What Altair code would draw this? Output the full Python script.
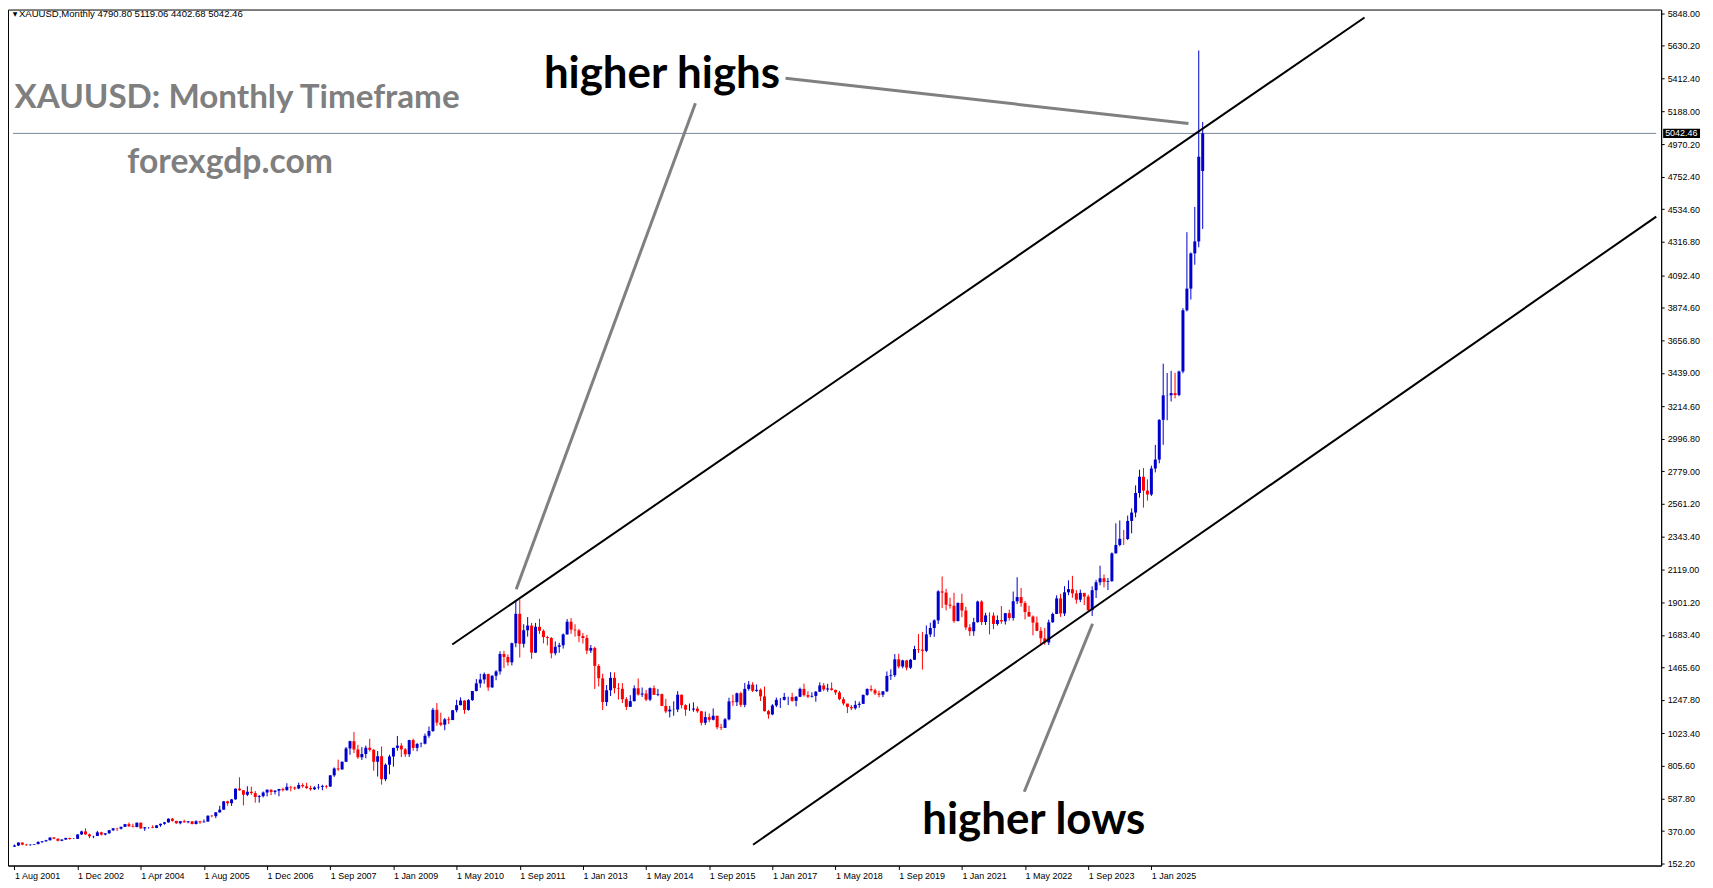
import altair as alt
import pandas as pd

# ---------------- data (monthly bars, index order) ----------------
first_open = 265.5
last_open = 4790.80

close = [
    # Aug 2001 - May 2006
    273.0, 293.1, 278.9, 275.5, 278.7,
    282.3, 296.8, 301.4, 308.2, 326.6, 318.5, 304.7, 312.8, 323.7, 316.9, 317.7, 347.2,
    367.5, 347.5, 334.9, 336.8, 361.4, 346.0, 354.8, 375.6, 388.0, 386.0, 398.0, 416.1,
    401.8, 397.5, 425.8, 387.5, 395.0, 395.2, 390.9, 408.2, 418.4, 428.0, 452.5, 438.0,
    422.2, 435.5, 428.6, 434.8, 417.2, 435.5, 428.6, 433.2, 472.5, 469.7, 495.4, 513.0,
    569.0, 556.3, 582.0, 653.9, 643.0,
    # following bars up to Sep 2007 label
    613, 633, 624, 598, 604, 628, 646, 632, 640, 651, 644, 666, 662, 655, 678, 670, 658, 650, 662, 666, 672, 668,
    # Sep 2007 - Dec 2007
    743, 789, 783, 834,
    923, 972, 916, 864, 886, 928, 914, 834, 871, 717, 814, 869,
    927, 942, 917, 884, 979, 927, 953, 955, 1008, 1040, 1182, 1096,
    1082, 1118, 1113, 1179, 1213, 1244, 1181, 1247, 1308, 1359, 1385, 1421,
    1332, 1410, 1439, 1556, 1536, 1500, 1628, 1825, 1624, 1715, 1746, 1565,
    1738, 1711, 1669, 1663, 1561, 1604, 1614, 1687, 1772, 1719, 1714, 1676,
    1663, 1578, 1596, 1476, 1393, 1234, 1313, 1396, 1327, 1323, 1253, 1202,
    1240, 1326, 1284, 1291, 1250, 1327, 1282, 1287, 1208, 1171, 1183, 1184,
    1283, 1213, 1183, 1183, 1190, 1172, 1095, 1133, 1115, 1142, 1065, 1061,
    1118, 1238, 1233, 1293, 1215, 1322, 1351, 1309, 1316, 1272, 1173, 1151,
    1211, 1249, 1249, 1268, 1268, 1242, 1269, 1322, 1280, 1270, 1275, 1303,
    1345, 1318, 1325, 1315, 1298, 1253, 1224, 1201, 1192, 1215, 1222, 1282,
    1321, 1313, 1292, 1283, 1306, 1409, 1414, 1520, 1472, 1513, 1464, 1517,
    1589, 1585, 1577, 1687, 1730, 1781, 1975, 1967, 1886, 1879, 1776, 1898,
    1847, 1734, 1708, 1769, 1907, 1770, 1814, 1813, 1757, 1783, 1774, 1829,
    1797, 1909, 1937, 1897, 1837, 1807, 1766, 1711, 1661, 1633, 1768, 1824,
    1928, 1827, 1969, 1990, 1962, 1919, 1965, 1940, 1849, 1983, 2036, 2063,
    2039, 2044, 2230, 2286, 2327, 2326, 2447, 2503, 2634, 2743, 2650, 2624,
    2798, 2858, 3124, 3288, 3289, 3303, 3290, 3448, 3858, 4003, 4239, 4319,
    4886, 5042.46,
]

high = [
    280.0, 293.3, 293.0, 284.0, 281.0,
    283.0, 302.0, 303.0, 311.0, 327.0, 330.0, 321.0, 315.0, 325.0, 325.0, 322.0, 349.0,
    372.0, 388.0, 353.0, 338.0, 371.0, 365.0, 355.0, 376.0, 390.0, 392.0, 399.0, 418.0,
    427.0, 419.0, 427.0, 427.0, 397.0, 397.0, 408.0, 409.0, 420.0, 431.0, 455.0, 457.0,
    438.0, 437.0, 446.0, 437.0, 436.0, 442.0, 438.0, 448.0, 475.0, 478.0, 496.0, 539.0,
    570.0, 573.0, 585.0, 654.0, 730.0,
    645, 670, 667, 638, 612, 635, 650, 650, 645, 653, 660, 690, 672, 668, 694, 690, 693, 673, 670, 685, 680, 678,
    745, 796, 848, 836,
    933, 975, 1033, 947, 932, 942, 988, 920, 906, 936, 822, 881,
    927, 1007, 959, 925, 981, 989, 960, 963, 1023, 1070, 1195, 1227,
    1162, 1127, 1135, 1181, 1249, 1265, 1245, 1254, 1308, 1388, 1424, 1432,
    1424, 1413, 1447, 1574, 1577, 1553, 1632, 1912, 1921, 1755, 1803, 1764,
    1764, 1791, 1720, 1677, 1669, 1640, 1631, 1693, 1790, 1796, 1755, 1724,
    1696, 1684, 1616, 1605, 1488, 1424, 1348, 1434, 1433, 1361, 1361, 1267,
    1280, 1345, 1392, 1331, 1315, 1332, 1345, 1322, 1291, 1255, 1208, 1239,
    1307, 1284, 1219, 1224, 1232, 1205, 1175, 1170, 1157, 1191, 1142, 1088,
    1127, 1263, 1283, 1297, 1303, 1362, 1375, 1367, 1352, 1325, 1337, 1181,
    1220, 1264, 1261, 1295, 1270, 1296, 1274, 1331, 1357, 1306, 1299, 1307,
    1366, 1361, 1356, 1365, 1317, 1309, 1266, 1221, 1214, 1243, 1237, 1284,
    1326, 1346, 1324, 1310, 1306, 1439, 1453, 1555, 1557, 1517, 1516, 1523,
    1611, 1689, 1704, 1747, 1765, 1788, 1983, 2075, 1992, 1933, 1966, 1900,
    1959, 1872, 1755, 1798, 1913, 1916, 1832, 1834, 1834, 1814, 1877, 1831,
    1853, 1974, 2070, 1998, 1910, 1879, 1814, 1807, 1735, 1730, 1786, 1833,
    1949, 1959, 2010, 2049, 2079, 1984, 1987, 1949, 1953, 2009, 2052, 2147,
    2088, 2065, 2236, 2431, 2450, 2387, 2483, 2531, 2685, 2790, 2801, 2726,
    2817, 2956, 3128, 3500, 3438, 3452, 3439, 3454, 3872, 4381, 4245, 4550,
    5598, 5119.06,
]

low = [
    264.0, 270.0, 275.0, 271.0, 272.0,
    277.0, 281.0, 289.0, 298.0, 307.0, 315.0, 300.0, 302.0, 311.0, 312.0, 316.0, 317.0,
    344.0, 346.0, 322.0, 322.0, 336.0, 340.0, 341.0, 352.0, 370.0, 370.0, 380.0, 398.0,
    398.0, 394.0, 395.0, 386.0, 371.0, 386.0, 389.0, 389.0, 398.0, 412.0, 426.0, 433.0,
    418.0, 415.0, 425.0, 422.0, 414.0, 414.0, 418.0, 427.0, 433.0, 462.0, 456.0, 492.0,
    513.0, 540.0, 538.0, 580.0, 640.0,
    542, 604, 612, 560, 560, 595, 602, 610, 615, 603, 635, 640, 636, 645, 650, 660, 652, 640, 645, 648, 643, 655,
    665, 733, 773, 780,
    832, 881, 892, 854, 846, 857, 903, 774, 735, 681, 704, 750,
    801, 908, 865, 866, 866, 908, 904, 931, 950, 994, 1034, 1075,
    1072, 1045, 1087, 1115, 1165, 1212, 1155, 1176, 1242, 1305, 1330, 1357,
    1309, 1329, 1380, 1418, 1462, 1477, 1479, 1601, 1532, 1599, 1672, 1523,
    1562, 1690, 1627, 1613, 1527, 1547, 1564, 1592, 1686, 1691, 1672, 1635,
    1626, 1555, 1562, 1321, 1338, 1180, 1208, 1274, 1292, 1251, 1227, 1181,
    1202, 1238, 1277, 1268, 1240, 1240, 1281, 1273, 1206, 1160, 1131, 1142,
    1167, 1191, 1142, 1175, 1169, 1162, 1077, 1080, 1099, 1111, 1052, 1046,
    1062, 1111, 1208, 1207, 1200, 1199, 1310, 1301, 1302, 1241, 1171, 1122,
    1146, 1200, 1195, 1244, 1214, 1236, 1205, 1267, 1271, 1260, 1264, 1236,
    1302, 1307, 1303, 1310, 1282, 1246, 1211, 1160, 1180, 1183, 1196, 1221,
    1276, 1303, 1281, 1266, 1267, 1300, 1382, 1401, 1459, 1460, 1446, 1455,
    1517, 1563, 1451, 1568, 1670, 1671, 1757, 1863, 1848, 1860, 1764, 1775,
    1802, 1717, 1677, 1678, 1765, 1750, 1750, 1687, 1722, 1746, 1758, 1753,
    1780, 1780, 1890, 1872, 1787, 1805, 1681, 1709, 1615, 1617, 1616, 1765,
    1823, 1804, 1810, 1950, 1932, 1893, 1903, 1884, 1846, 1810, 1931, 2016,
    2002, 1984, 2039, 2228, 2277, 2286, 2318, 2364, 2471, 2603, 2536, 2583,
    2614, 2772, 2833, 2957, 3121, 3247, 3268, 3282, 3436, 3850, 3930, 4163,
    4280, 4402.68,
]

y_ticks = [152.20, 370.00, 587.80, 805.60, 1023.40, 1247.80, 1465.60, 1683.40, 1901.20,
           2119.00, 2343.40, 2561.20, 2779.00, 2996.80, 3214.60, 3439.00, 3656.80, 3874.60,
           4092.40, 4316.80, 4534.60, 4752.40, 4970.20, 5188.00, 5412.40, 5630.20, 5848.00]

x_tick_labels = ["1 Aug 2001", "1 Dec 2002", "1 Apr 2004", "1 Aug 2005", "1 Dec 2006",
                 "1 Sep 2007", "1 Jan 2009", "1 May 2010", "1 Sep 2011", "1 Jan 2013",
                 "1 May 2014", "1 Sep 2015", "1 Jan 2017", "1 May 2018", "1 Sep 2019",
                 "1 Jan 2021", "1 May 2022", "1 Sep 2023", "1 Jan 2025"]
bars_per_label = 16

last_price = 5042.46
header = "XAUUSD,Monthly  4790.80 5119.06 4402.68 5042.46"

# ---------------- build table ----------------
n = len(close)
opens = [first_open] + close[:-1]
opens[-1] = last_open
df = pd.DataFrame({"i": list(range(n)), "o": opens, "h": high, "l": low, "c": close})
df["top"] = df[["o", "c"]].max(axis=1)
df["bot"] = df[["o", "c"]].min(axis=1)
df["dir"] = ["up" if c >= o else "down" for o, c in zip(df["o"], df["c"])]

W, H = 1659, 859
X_DOM = [-0.375, 415.875]
Y_DOM = [139, 5872]
xs = alt.Scale(domain=X_DOM, nice=False, zero=False)
ys = alt.Scale(domain=Y_DOM, nice=False, zero=False)
col = alt.Color("dir:N", scale=alt.Scale(domain=["up", "down"], range=["#0000CC", "#FF0000"]), legend=None)

label_arr = "[" + ",".join("'%s'" % s for s in x_tick_labels) + "]"
x_axis = alt.Axis(values=[k * bars_per_label for k in range(len(x_tick_labels))],
                  labelExpr=label_arr + "[round(datum.value/%d)]" % bars_per_label,
                  grid=False, tickSize=4, labelAlign="left", labelFlush=False, labelOverlap=False,
                  labelBound=False,
                  labelPadding=2, labelBaseline="top", title=None, domainColor="black",
                  tickColor="black", labelFont="Liberation Sans", labelFontSize=9, labelColor="black")
y_axis = alt.Axis(orient="right", values=y_ticks, format=".2f", grid=False, tickSize=3,
                  labelPadding=3, title=None, domainColor="black", tickColor="black",
                  labelFlush=False, labelBound=False,
                  labelFont="Liberation Sans", labelFontSize=9, labelColor="black", labelOverlap=False)


def X(f):
    return alt.X(f, scale=xs, axis=x_axis)


def Y(f):
    return alt.Y(f, scale=ys, axis=y_axis)


base = alt.Chart(df)
wicks = base.mark_rule(strokeWidth=1).encode(x=X("i:Q"), y=Y("l:Q"), y2="h:Q", color=col)
bodies = base.mark_bar(size=3).encode(x=X("i:Q"), y=Y("bot:Q"), y2="top:Q", color=col)

# horizontal current-price line
price_line = alt.Chart(pd.DataFrame({"i0": [X_DOM[0]], "i1": [X_DOM[1]], "p": [last_price]})).mark_rule(
    color="#778899", strokeWidth=1).encode(x=X("i0:Q"), x2="i1:Q", y=Y("p:Q"))

# channel lines and pointer lines (annotation geometry in data space)
channel = pd.DataFrame({
    "x1": [110.9, 187.1], "x2": [342.0, 415.9],
    "y1": [1619, 278], "y2": [5819, 4485.5],
})
pointers = pd.DataFrame({
    "x1": [195.33, 172.5, 273.1], "x2": [297.4, 127.1, 255.8],
    "y1": [5411.5, 5244.6, 1758], "y2": [5109, 1990, 632.9],
})
ch_lines = alt.Chart(channel).mark_rule(color="black", strokeWidth=2).encode(
    x=X("x1:Q"), x2="x2:Q", y=Y("y1:Q"), y2="y2:Q")
pt_lines = alt.Chart(pointers).mark_rule(color="#808080", strokeWidth=3).encode(
    x=X("x1:Q"), x2="x2:Q", y=Y("y1:Q"), y2="y2:Q")


def text_layer(rows, **mk):
    return alt.Chart(pd.DataFrame(rows)).mark_text(**mk).encode(
        x=X("x:Q"), y=Y("y:Q"), text="t:N")


big = text_layer({"x": [134.11, 229.96], "y": [5344.7, 352.6], "t": ["higher highs", "higher lows"]},
                 font="Lato", fontWeight="bold", fontSize=44, color="black",
                 align="left", baseline="alphabetic")
title_t = text_layer({"x": [0.0], "y": [5211.3], "t": ["XAUUSD: Monthly Timeframe"]},
                     font="Lato", fontWeight="bold", fontSize=33.3, color="#7f7f7f",
                     align="left", baseline="alphabetic")
site_t = text_layer({"x": [28.6], "y": [4777.5], "t": ["forexgdp.com"]},
                    font="Lato", fontWeight="bold", fontSize=33.8, color="#7f7f7f",
                    align="left", baseline="alphabetic")
head = text_layer({"x": [1.13], "y": [5842], "t": [header]},
                  font="Liberation Sans", fontSize=9.6, color="black", align="left", baseline="middle")
tri = text_layer({"x": [0.127], "y": [5842], "t": ["▼"]},
                 font="DejaVu Sans", fontSize=6, color="black", align="center", baseline="middle")

# price tag on the axis
tag_box = alt.Chart(pd.DataFrame({"a": [last_price + 31], "b": [last_price - 31]})).mark_rect(color="black").encode(
    x=alt.value(W + 2), x2=alt.value(W + 39), y=Y("a:Q"), y2="b:Q")
tag_txt = alt.Chart(pd.DataFrame({"p": [last_price], "t": ["%.2f" % last_price]})).mark_text(
    color="white", font="Liberation Sans", fontSize=9, align="left", baseline="middle").encode(
    x=alt.value(W + 4), y=Y("p:Q"), text="t:N")

chart = alt.layer(
    price_line, wicks, bodies, ch_lines, pt_lines, big, title_t, site_t, head, tri, tag_box, tag_txt
).properties(
    width=W, height=H,
    padding={"left": 0, "top": 0, "right": 44, "bottom": 20},
    autosize=alt.AutoSizeParams(type="none"),
    background="white",
).configure_view(stroke="black", strokeWidth=1)

chart.save("out.html", embed_options={"renderer": "svg", "actions": False})
